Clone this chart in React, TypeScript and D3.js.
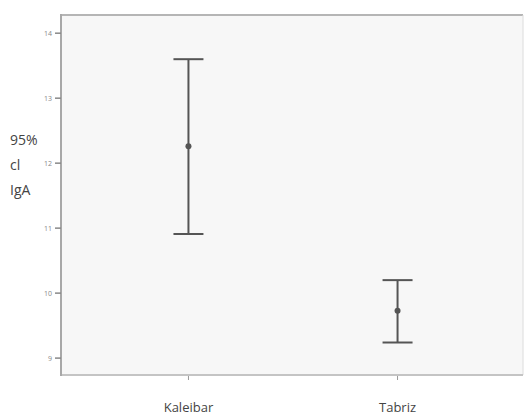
import React from "react";
import * as d3 from "d3";

const categories = ["Kaleibar", "Tabriz"];
const means = [12.26, 9.73];
const lower = [10.91, 9.24];
const upper = [13.6, 10.2];
const yTicks = [9, 10, 11, 12, 13, 14];
const yLabelLines = ["95%", "cl", "IgA"];

export default function App() {
  const W = 524, H = 417;
  const left = 61, right = 523, top = 15, bottom = 375;
  const y = d3.scaleLinear().domain([8.74, 14.28]).range([bottom, top]);
  const x = d3.scalePoint<string>().domain(categories).range([left + 2, right]).padding(0.6);
  const col = "#555";
  return (
    <svg width={W} height={H} style={{ position: "absolute", left: 0, top: 0 }}>
      <rect x={0} y={0} width={W} height={H} fill="#fff" />
      <rect x={left} y={top} width={right - left} height={bottom - top} fill="#f7f7f7" />
      <line x1={left} x2={right} y1={top} y2={top} stroke="#b5b5b5" strokeWidth={2} />
      <line x1={right} x2={right} y1={top} y2={bottom} stroke="#dcdcdc" strokeWidth={1} />
      <line x1={left} x2={right} y1={bottom} y2={bottom} stroke="#c4c4c4" strokeWidth={2} />
      <line x1={left} x2={left} y1={top - 1} y2={bottom + 1} stroke="#a8a8a8" strokeWidth={2} />
      {yTicks.map((t) => (
        <g key={t}>
          <line x1={left - 6} x2={left} y1={y(t)} y2={y(t)} stroke="#888" strokeWidth={1.5} />
          <text x={left - 9} y={y(t)} dy="0.35em" textAnchor="end" fontSize={7} fill="#888" fontFamily="Open Sans, sans-serif">{t}</text>
        </g>
      ))}
      {categories.map((c) => (
        <g key={c}>
          <line x1={x(c)!} x2={x(c)!} y1={bottom + 1} y2={bottom + 5} stroke="#999" strokeWidth={1} />
          <text x={x(c)!} y={412} textAnchor="middle" fontSize={13} fill="#444" fontFamily="Open Sans, sans-serif">{c}</text>
        </g>
      ))}
      {categories.map((c, i) => {
        const cx = x(c)!;
        return (
          <g key={"e" + c}>
            <line x1={cx} x2={cx} y1={y(upper[i])} y2={y(lower[i])} stroke={col} strokeWidth={2} />
            <line x1={cx - 15} x2={cx + 15} y1={y(upper[i])} y2={y(upper[i])} stroke={col} strokeWidth={2} />
            <line x1={cx - 15} x2={cx + 15} y1={y(lower[i])} y2={y(lower[i])} stroke={col} strokeWidth={2} />
            <circle cx={cx} cy={y(means[i])} r={3} fill={col} />
          </g>
        );
      })}
      {yLabelLines.map((s, i) => (
        <text key={s} x={10} y={145 + i * 25} fontSize={14} fill="#444" fontFamily="Open Sans, sans-serif">{s}</text>
      ))}
    </svg>
  );
}
